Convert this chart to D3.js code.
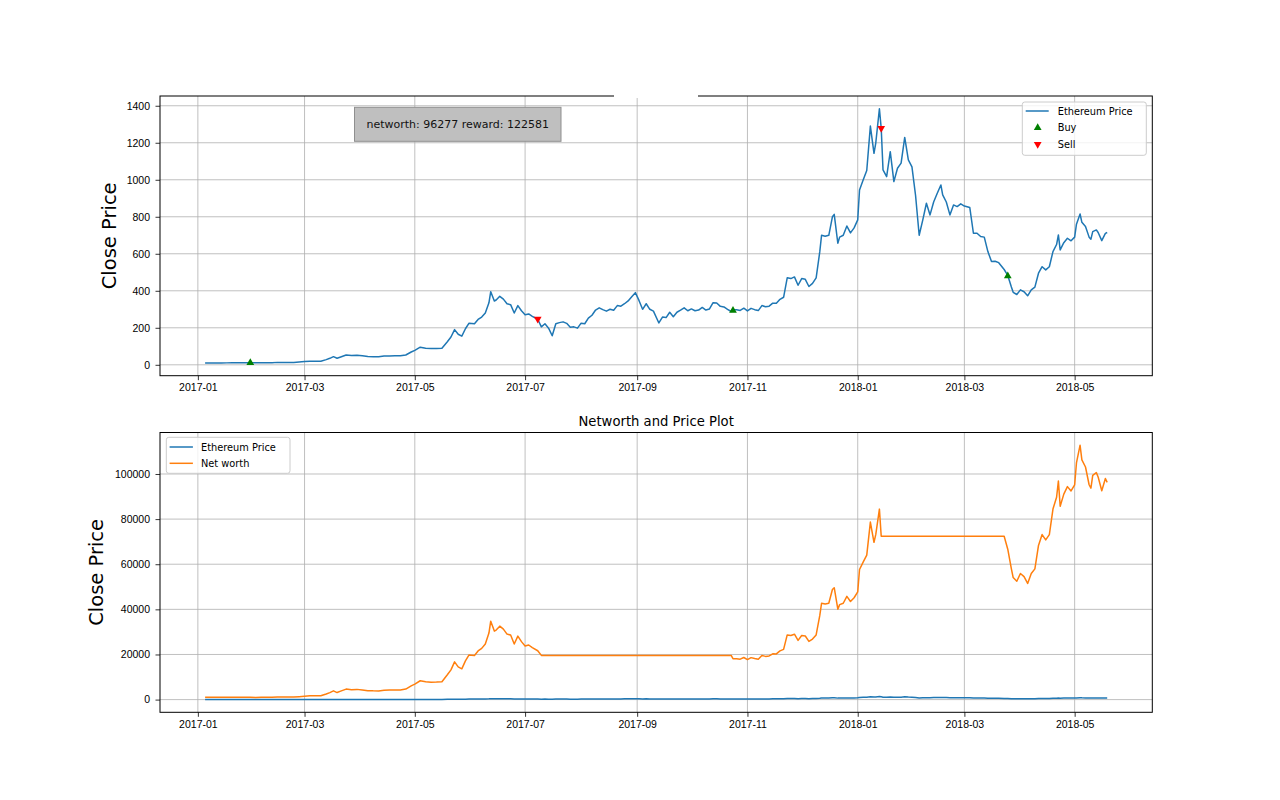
<!DOCTYPE html>
<html>
<head>
<meta charset="utf-8">
<script src="https://cdn.jsdelivr.net/npm/d3@7"></script>
<style>
  body { margin: 0; background: #fff; }
  svg { font-family: "DejaVu Sans", sans-serif; }
  .grid line { stroke: #b0b0b0; stroke-width: 0.8; }
  .axis text { font-size: 10.5px; fill: #000; }
  .axis line { stroke: #000; stroke-width: 0.8; }
</style>
</head>
<body>
<svg width="1280" height="800"></svg>
<script>
var dates = [
  "2017-01-05","2017-01-08","2017-01-11","2017-01-14","2017-01-17","2017-01-20","2017-01-23","2017-01-26","2017-01-30",
  "2017-02-02","2017-02-05","2017-02-08","2017-02-11","2017-02-14","2017-02-17","2017-02-20","2017-02-23","2017-02-26",
  "2017-03-01","2017-03-04","2017-03-07","2017-03-10","2017-03-13","2017-03-15","2017-03-17","2017-03-19","2017-03-21","2017-03-24","2017-03-27","2017-03-30",
  "2017-04-02","2017-04-05","2017-04-08","2017-04-11","2017-04-14","2017-04-17","2017-04-20","2017-04-23","2017-04-26","2017-04-29",
  "2017-05-01","2017-05-04","2017-05-07","2017-05-10","2017-05-13","2017-05-16","2017-05-19","2017-05-21","2017-05-23","2017-05-25","2017-05-27","2017-05-29","2017-05-31",
  "2017-06-03","2017-06-05","2017-06-07","2017-06-09","2017-06-11","2017-06-12","2017-06-14","2017-06-15","2017-06-17","2017-06-19","2017-06-21","2017-06-23","2017-06-25","2017-06-27","2017-06-29",
  "2017-07-01","2017-07-03","2017-07-05","2017-07-08","2017-07-10","2017-07-12","2017-07-14","2017-07-16","2017-07-18","2017-07-20","2017-07-22","2017-07-24","2017-07-26","2017-07-28","2017-07-30",
  "2017-08-01","2017-08-03","2017-08-05","2017-08-07","2017-08-09","2017-08-11","2017-08-13","2017-08-15","2017-08-17","2017-08-19","2017-08-21","2017-08-23","2017-08-25","2017-08-27","2017-08-29","2017-08-31",
  "2017-09-02","2017-09-04","2017-09-06","2017-09-08","2017-09-10","2017-09-13","2017-09-15","2017-09-17","2017-09-19","2017-09-21","2017-09-23","2017-09-25","2017-09-27","2017-09-29",
  "2017-10-01","2017-10-03","2017-10-05","2017-10-07","2017-10-09","2017-10-11","2017-10-13","2017-10-15","2017-10-17","2017-10-19","2017-10-21","2017-10-23","2017-10-24","2017-10-26","2017-10-28","2017-10-30",
  "2017-11-01","2017-11-03","2017-11-05","2017-11-07","2017-11-09","2017-11-11","2017-11-13","2017-11-15","2017-11-17","2017-11-19","2017-11-21","2017-11-23","2017-11-25","2017-11-27","2017-11-29",
  "2017-12-01","2017-12-03","2017-12-05","2017-12-07","2017-12-09","2017-12-11","2017-12-12","2017-12-14","2017-12-16","2017-12-18","2017-12-19","2017-12-21","2017-12-22","2017-12-24","2017-12-26","2017-12-28","2017-12-30",
  "2018-01-01","2018-01-02","2018-01-04","2018-01-06","2018-01-08","2018-01-10","2018-01-11","2018-01-13","2018-01-14","2018-01-15","2018-01-17","2018-01-19","2018-01-21","2018-01-23","2018-01-25","2018-01-27","2018-01-29","2018-01-31",
  "2018-02-02","2018-02-04","2018-02-06","2018-02-08","2018-02-10","2018-02-12","2018-02-14","2018-02-16","2018-02-17","2018-02-19","2018-02-21","2018-02-23","2018-02-25","2018-02-27",
  "2018-03-01","2018-03-04","2018-03-06","2018-03-08","2018-03-10","2018-03-12","2018-03-14","2018-03-16","2018-03-18","2018-03-20","2018-03-23","2018-03-25","2018-03-27","2018-03-28","2018-03-30",
  "2018-04-01","2018-04-03","2018-04-05","2018-04-07","2018-04-09","2018-04-11","2018-04-13","2018-04-15","2018-04-17","2018-04-19","2018-04-21","2018-04-22","2018-04-23","2018-04-25","2018-04-27","2018-04-29",
  "2018-05-01","2018-05-02","2018-05-04","2018-05-05","2018-05-07","2018-05-09","2018-05-10","2018-05-11","2018-05-13","2018-05-14","2018-05-16","2018-05-18","2018-05-19"
];

var price = [
  10.2,10.3,9.9,9.8,10.4,10.6,10.7,10.5,10.6,
  10.9,11.3,11.3,11.4,13.1,12.8,12.6,13.0,14.9,
  17.2,19.3,19.0,19.2,28.0,35.0,44.0,35.5,42.5,53.0,50.0,51.5,
  48.5,45.0,44.0,43.7,47.0,48.0,49.0,48.5,53.0,69.0,
  78,95,90,88,88.5,90,125,150,190,165,155,195,225,
  222,245,258,280,335,395,345,350,370,355,330,325,280,320,292,
  270,275,262,246,205,222,198,157,222,228,232,224,203,205,198,
  225,222,252,268,296,308,298,290,300,295,320,317,330,345,368,390,
  348,300,330,300,290,226,258,255,284,260,284,295,308,292,
  302,292,296,310,296,302,336,334,316,313,300,288,297,297,294,306,
  291,305,298,293,320,314,317,333,332,354,365,470,466,475,430,
  466,462,423,440,470,610,700,695,700,800,813,657,690,700,750,713,740,
  783,945,999,1050,1290,1143,1200,1384,1278,1053,1017,1152,990,1062,1090,1229,1107,1070,
  915,700,783,873,810,880,927,972,918,880,810,864,855,870,
  858,850,711,711,693,690,612,558,560,552,515,483,420,392,380,
  405,395,373,405,420,495,530,513,530,612,650,702,621,660,684,670,
  690,760,815,770,747,690,679,720,729,715,671,710,715
];

var networth = [
  1000,1000,1000,1000,1000,1000,1000,1000,1000,
  959,994,994,1003,1153,1126,1109,1144,1311,
  1514,1698,1672,1690,2464,3080,3872,3124,3740,4664,4400,4532,
  4268,3960,3872,3846,4136,4224,4312,4268,4664,6072,
  6864,8360,7920,7744,7788,7920,11000,13200,16720,14520,13640,17160,19800,
  19536,21560,22704,24640,29480,34760,30360,30800,32560,31240,29040,28600,24640,28160,25696,
  23760,24200,23056,21648,19600,19600,19600,19600,19600,19600,19600,19600,19600,19600,19600,
  19600,19600,19600,19600,19600,19600,19600,19600,19600,19600,19600,19600,19600,19600,19600,19600,
  19600,19600,19600,19600,19600,19600,19600,19600,19600,19600,19600,19600,19600,19600,
  19600,19600,19600,19600,19600,19600,19600,19600,19600,19600,19600,19600,18117,18117,17934,18666,
  17751,18605,18178,17873,19520,19154,19337,20313,20252,21594,22265,28670,28426,28975,26230,
  28426,28182,25803,26840,28670,37210,42700,42395,42700,48800,49593,40077,42090,42700,45750,43493,45140,
  47763,57645,60939,64050,78690,69723,73200,84424,72400,72400,72400,72400,72400,72400,72400,72400,72400,72400,
  72400,72400,72400,72400,72400,72400,72400,72400,72400,72400,72400,72400,72400,72400,
  72400,72400,72400,72400,72400,72400,72400,72400,72400,72400,72400,66654,57960,54096,52440,
  55890,54510,51474,55890,57960,68310,73140,70794,73140,84456,89700,96876,85698,91080,94392,92460,
  95220,104880,112750,106260,103086,95220,93702,99360,100602,98670,92598,97980,96277
];

var buyDates = ["2017-01-30","2017-10-24","2018-03-25"];
var buyPrices = [10.6, 293, 480];
var sellDates = ["2017-07-08","2018-01-14"];
var sellPrices = [247, 1278];

var monthTicks = ["2017-01-01","2017-03-01","2017-05-01","2017-07-01","2017-09-01","2017-11-01","2018-01-01","2018-03-01","2018-05-01"];
var priceTicks = [0,200,400,600,800,1000,1200,1400];
var worthTicks = [0,20000,40000,60000,80000,100000];

var infoText = "networth: 96277 reward: 122581";
var plotTitle = "Networth and Price Plot";

var parse = d3.timeParse("%Y-%m-%d");
var days = dates.map(parse);
var svg = d3.select("svg");

var left = 160, right = 1152.3;
var top1 = 96, bottom1 = 375.7;
var top2 = 432.5, bottom2 = 712.3;

// matplotlib style 5% margins
function pad(ext) {
  var a = +ext[0], b = +ext[1], r = b - a;
  return [a - r * 0.05, b + r * 0.05];
}

var xd = pad(d3.extent(days));
var x = d3.scaleTime()
    .domain([new Date(xd[0]), new Date(xd[1])])
    .range([left, right]);

var y1 = d3.scaleLinear()
    .domain(pad(d3.extent(price)))
    .range([bottom1, top1]);

var y2 = d3.scaleLinear()
    .domain(pad([d3.min(price.concat(networth)), d3.max(price.concat(networth))]))
    .range([bottom2, top2]);

function drawPanel(y, yTicks, top, bottom, labelX) {
  var g = svg.append("g");

  // grid
  var grid = g.append("g").attr("class", "grid");
  grid.selectAll(".vx")
      .data(monthTicks.map(parse))
      .enter().append("line")
      .attr("x1", function(d) { return x(d); })
      .attr("x2", function(d) { return x(d); })
      .attr("y1", top).attr("y2", bottom);
  grid.selectAll(".hy")
      .data(yTicks)
      .enter().append("line")
      .attr("x1", left).attr("x2", right)
      .attr("y1", function(d) { return y(d); })
      .attr("y2", function(d) { return y(d); });

  // axes
  g.append("g")
      .attr("class", "axis")
      .attr("transform", "translate(0," + bottom + ")")
      .call(d3.axisBottom(x)
        .tickValues(monthTicks.map(parse))
        .tickFormat(d3.timeFormat("%Y-%m"))
        .tickSize(4.5).tickSizeOuter(0).tickPadding(3.5))
      .call(function(a) { a.select(".domain").remove(); });

  g.append("g")
      .attr("class", "axis")
      .attr("transform", "translate(" + left + ",0)")
      .call(d3.axisLeft(y)
        .tickValues(yTicks)
        .tickFormat(d3.format("d"))
        .tickSize(4.5).tickSizeOuter(0).tickPadding(5.5))
      .call(function(a) { a.select(".domain").remove(); });

  g.append("text")
      .attr("transform", "translate(" + labelX + "," + ((top + bottom) / 2) + ") rotate(-90)")
      .attr("text-anchor", "middle")
      .attr("font-size", "19.5px")
      .text("Close Price");

  return g;
}

function spine(top, bottom) {
  svg.append("rect")
      .attr("x", left).attr("y", top)
      .attr("width", right - left).attr("height", bottom - top)
      .attr("fill", "none")
      .attr("stroke", "#000")
      .attr("stroke-width", 1);
}

// ---------- top panel ----------
var g1 = drawPanel(y1, priceTicks, top1, bottom1, 116);

var priceLine1 = d3.line()
    .x(function(d, i) { return x(days[i]); })
    .y(function(d) { return y1(d); });

g1.append("path")
    .datum(price)
    .attr("fill", "none")
    .attr("stroke", "#1f77b4")
    .attr("stroke-width", 1.5)
    .attr("stroke-linejoin", "round")
    .attr("d", priceLine1);

var tri = d3.symbol().type(d3.symbolTriangle).size(26);

g1.selectAll(".buy")
    .data(buyDates)
    .enter().append("path")
    .attr("d", tri)
    .attr("fill", "green")
    .attr("transform", function(d, i) { return "translate(" + x(parse(d)) + "," + y1(buyPrices[i]) + ")"; });

g1.selectAll(".sell")
    .data(sellDates)
    .enter().append("path")
    .attr("d", tri)
    .attr("fill", "red")
    .attr("transform", function(d, i) { return "translate(" + x(parse(d)) + "," + y1(sellPrices[i]) + ") rotate(180)"; });

spine(top1, bottom1);
// white notch across the top spine, as in the original render
svg.append("rect")
    .attr("x", 614).attr("y", 94)
    .attr("width", 84).attr("height", 4)
    .attr("fill", "#fff");

// info box
svg.append("rect")
    .attr("x", 354.5).attr("y", 107.3)
    .attr("width", 206.5).attr("height", 34)
    .attr("fill", "#bfbfbf")
    .attr("stroke", "#8f8f8f")
    .attr("stroke-width", 1);
svg.append("text")
    .attr("x", 457.7).attr("y", 128)
    .attr("text-anchor", "middle")
    .attr("font-size", "11px")
    .attr("fill", "#111")
    .text(infoText);

// top legend
var leg1 = svg.append("g");
leg1.append("rect")
    .attr("x", 1022.3).attr("y", 102)
    .attr("width", 124).attr("height", 53.3)
    .attr("rx", 2.5)
    .attr("fill", "#fff").attr("fill-opacity", 0.8)
    .attr("stroke", "#cccccc");
leg1.append("line")
    .attr("x1", 1025.7).attr("x2", 1048.7)
    .attr("y1", 111).attr("y2", 111)
    .attr("stroke", "#1f77b4").attr("stroke-width", 1.5);
leg1.append("path").attr("d", tri).attr("fill", "green")
    .attr("transform", "translate(1037.7,127.8)");
leg1.append("path").attr("d", tri).attr("fill", "red")
    .attr("transform", "translate(1037.7,144.2) rotate(180)");
leg1.selectAll("text")
    .data(["Ethereum Price", "Buy", "Sell"])
    .enter().append("text")
    .attr("x", 1057.7)
    .attr("y", function(d, i) { return 114.6 + i * 16.5; })
    .attr("font-size", "9.8px")
    .text(function(d) { return d; });

// ---------- bottom panel ----------
var g2 = drawPanel(y2, worthTicks, top2, bottom2, 103);

var priceLine2 = d3.line()
    .x(function(d, i) { return x(days[i]); })
    .y(function(d) { return y2(d); });

g2.append("path")
    .datum(price)
    .attr("fill", "none")
    .attr("stroke", "#1f77b4")
    .attr("stroke-width", 1.5)
    .attr("d", priceLine2);

g2.append("path")
    .datum(networth)
    .attr("fill", "none")
    .attr("stroke", "#ff7f0e")
    .attr("stroke-width", 1.5)
    .attr("stroke-linejoin", "round")
    .attr("d", priceLine2);

spine(top2, bottom2);

svg.append("text")
    .attr("x", (left + right) / 2).attr("y", 426)
    .attr("text-anchor", "middle")
    .attr("font-size", "13.2px")
    .text(plotTitle);

// bottom legend
var leg2 = svg.append("g");
leg2.append("rect")
    .attr("x", 166.3).attr("y", 437.3)
    .attr("width", 123.7).attr("height", 36)
    .attr("rx", 2.5)
    .attr("fill", "#fff").attr("fill-opacity", 0.8)
    .attr("stroke", "#cccccc");
leg2.selectAll("line")
    .data(["#1f77b4", "#ff7f0e"])
    .enter().append("line")
    .attr("x1", 169.6).attr("x2", 192.9)
    .attr("y1", function(d, i) { return 447 + i * 16.3; })
    .attr("y2", function(d, i) { return 447 + i * 16.3; })
    .attr("stroke", function(d) { return d; })
    .attr("stroke-width", 1.5);
leg2.selectAll("text")
    .data(["Ethereum Price", "Net worth"])
    .enter().append("text")
    .attr("x", 201)
    .attr("y", function(d, i) { return 450.6 + i * 16.3; })
    .attr("font-size", "9.8px")
    .text(function(d) { return d; });
</script>
</body>
</html>
